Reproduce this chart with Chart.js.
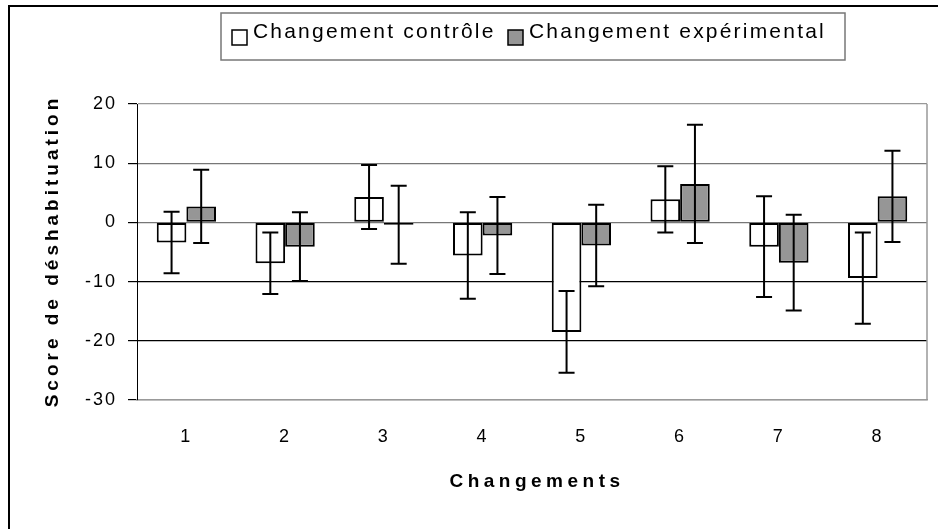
<!DOCTYPE html>
<html>
<head>
<meta charset="utf-8">
<script src="https://cdn.jsdelivr.net/npm/chart.js@4"></script>
<style>
  body { margin: 0; background: #fff; }
  canvas { display: block; }
</style>
</head>
<body>
<canvas id="chart" width="938" height="529"></canvas>
<script>
const categories = ['1', '2', '3', '4', '5', '6', '7', '8'];
const controle = [-3.4, -6.9, 4.3, -5.6, -18.5, 3.9, -4.1, -9.4];
const controleErr = [5.2, 5.2, 5.4, 7.3, 6.9, 5.6, 8.5, 7.7];
const experimental = [2.7, -4.1, -0.4, -2.2, -3.9, 6.5, -6.8, 4.4];
const experimentalErr = [6.2, 5.8, 6.6, 6.5, 6.9, 10, 8.1, 7.7];
const yMin = -30;
const yMax = 20;
const yStep = 10;

const seriesNames = ['Changement contrôle', 'Changement expérimental'];
const xTitle = 'Changements';
const yTitle = 'Score de déshabituation';

const FONT = '"Liberation Sans", Arial, sans-serif';

// error bars, frame, legend and axis titles
const decorations = {
  id: 'decorations',
  beforeDraw(chart) {
    chart.ctx.letterSpacing = '2px';
  },
  afterDatasetsDraw(chart) {
    const ctx = chart.ctx;
    const y = chart.scales.y;
    const errs = [controleErr, experimentalErr];
    ctx.save();
    ctx.strokeStyle = '#000';
    ctx.lineWidth = 2;
    chart.data.datasets.forEach((ds, i) => {
      chart.getDatasetMeta(i).data.forEach((bar, j) => {
        const v = ds.data[j];
        const top = y.getPixelForValue(v + errs[i][j]);
        const bot = y.getPixelForValue(v - errs[i][j]);
        ctx.beginPath();
        ctx.moveTo(bar.x, top); ctx.lineTo(bar.x, bot);
        ctx.moveTo(bar.x - 8, top); ctx.lineTo(bar.x + 8, top);
        ctx.moveTo(bar.x - 8, bot); ctx.lineTo(bar.x + 8, bot);
        ctx.stroke();
      });
    });
    ctx.restore();
  },
  afterDraw(chart) {
    const ctx = chart.ctx;
    const area = chart.chartArea;
    ctx.save();

    // right side of plot area
    ctx.strokeStyle = '#999';
    ctx.lineWidth = 1.5;
    ctx.beginPath();
    ctx.moveTo(area.right, area.top);
    ctx.lineTo(area.right, area.bottom);
    ctx.stroke();

    // outer frame (left and top)
    ctx.strokeStyle = '#000';
    ctx.lineWidth = 2;
    ctx.beginPath();
    ctx.moveTo(9, 529);
    ctx.lineTo(9, 6);
    ctx.lineTo(938, 6);
    ctx.stroke();

    // legend
    ctx.strokeStyle = '#777';
    ctx.lineWidth = 1.5;
    ctx.strokeRect(221, 13, 624, 47);
    ctx.font = '21px ' + FONT;
    ctx.letterSpacing = '2.2px';
    ctx.textBaseline = 'alphabetic';
    ctx.textAlign = 'left';
    let x = 232;
    chart.data.datasets.forEach((ds, i) => {
      ctx.fillStyle = ds.backgroundColor;
      ctx.fillRect(x, 30, 15, 15);
      ctx.strokeStyle = '#000';
      ctx.lineWidth = 1.5;
      ctx.strokeRect(x, 30, 15, 15);
      ctx.fillStyle = '#000';
      ctx.fillText(ds.label, x + 21, 38);
      x = 508;
    });

    // axis titles
    ctx.font = 'bold 19px ' + FONT;
    ctx.letterSpacing = '4.5px';
    ctx.textAlign = 'center';
    ctx.textBaseline = 'middle';
    ctx.fillText(xTitle, 537, 482);
    ctx.letterSpacing = '4px';
    ctx.translate(53, 251);
    ctx.rotate(-Math.PI / 2);
    ctx.fillText(yTitle, 0, 0);
    ctx.restore();
  }
};

function gridColor(ctx) {
  const v = ctx.tick ? ctx.tick.value : 0;
  if (v === 20 || v === -30) return '#999';
  if (v === 10 || v === 0) return '#777';
  return '#000';
}

new Chart(document.getElementById('chart'), {
  type: 'bar',
  data: {
    labels: categories,
    datasets: [
      {
        label: seriesNames[0],
        data: controle,
        backgroundColor: '#ffffff',
        borderColor: '#000',
        borderWidth: 2,
        borderSkipped: false
      },
      {
        label: seriesNames[1],
        data: experimental,
        backgroundColor: '#969696',
        borderColor: '#000',
        borderWidth: 2,
        borderSkipped: false
      }
    ]
  },
  options: {
    responsive: false,
    animation: false,
    layout: { padding: { left: 0, top: 104, right: 11, bottom: 0 } },
    datasets: { bar: { categoryPercentage: 0.6, barPercentage: 1.0 } },
    plugins: {
      legend: { display: false },
      tooltip: { enabled: false }
    },
    scales: {
      x: {
        grid: { display: false, drawTicks: false },
        border: { display: true, color: '#999', width: 1.5 },
        ticks: { color: '#000', padding: 26, font: { family: FONT, size: 18 } },
        afterFit(scale) { scale.height = 129; }
      },
      y: {
        min: yMin,
        max: yMax,
        grid: { color: gridColor, lineWidth: 1.2, tickLength: 9, tickColor: '#000' },
        border: { display: true, color: '#000', width: 1 },
        ticks: { stepSize: yStep, color: '#000', padding: 11, font: { family: FONT, size: 18 } },
        afterFit(scale) { scale.width = 137; }
      }
    }
  },
  plugins: [decorations]
});
</script>
</body>
</html>
